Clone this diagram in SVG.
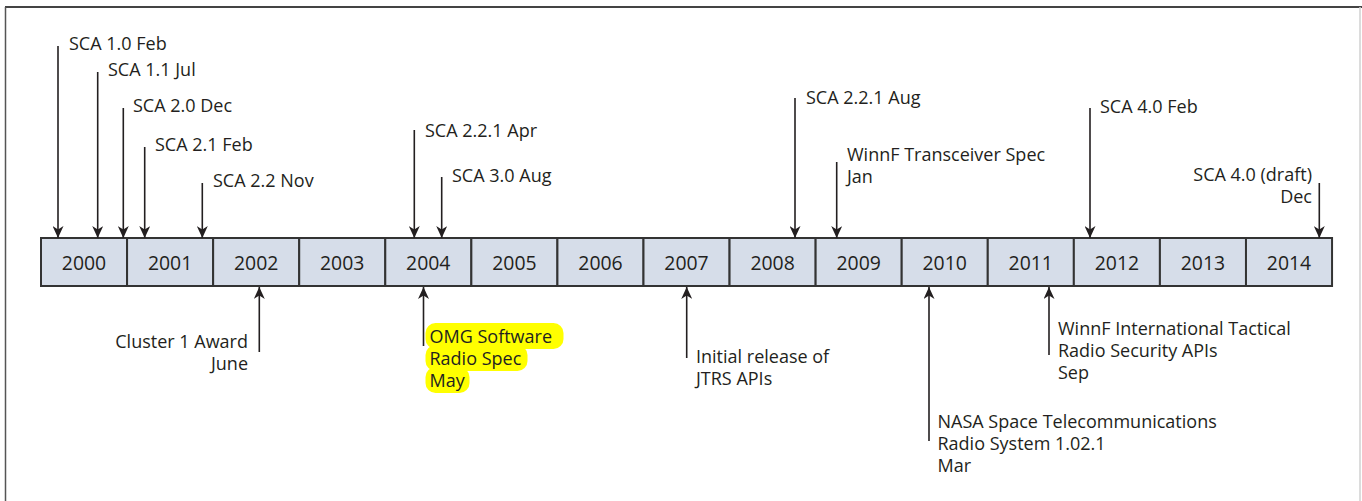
<svg xmlns="http://www.w3.org/2000/svg" width="1362" height="501" viewBox="0 0 1362 501">
<defs>
<marker id="ah" viewBox="0 0 12 11" refX="12" refY="5.5" markerWidth="13" markerHeight="11" markerUnits="userSpaceOnUse" orient="auto">
<path d="M0,0 L12,5.5 L0,11 L3.5,5.5 z" fill="#231f20"/>
</marker>
<style>
.t{font-family:"Open Sans","Noto Sans","Liberation Sans",sans-serif;font-size:18px;fill:#231f20}
.y{font-family:"Open Sans","Noto Sans","Liberation Sans",sans-serif;font-size:19.4px;fill:#231f20;text-anchor:middle}
.e{text-anchor:end}
.cell{fill:#d6dde9;stroke:#333;stroke-width:2}
.a{stroke:#231f20;stroke-width:1.6;fill:none;marker-end:url(#ah)}
.hl{fill:#ffff00}
</style>
</defs>
<rect width="1362" height="501" fill="#fff"/>
<g id="frame">
<line x1="5" y1="7" x2="1362" y2="7" stroke="#444" stroke-width="2"/>
<line x1="5.5" y1="7" x2="5.5" y2="501" stroke="#555" stroke-width="1.5"/>
<line x1="1360" y1="7" x2="1360" y2="501" stroke="#d0d0d0" stroke-width="1.5"/>
</g>
<g id="timeline">
<g id="y2000"><rect class="cell" x="41" y="238" width="86.07" height="48"/><text class="y" x="84" y="270">2000</text></g>
<g id="y2001"><rect class="cell" x="127.07" y="238" width="86.07" height="48"/><text class="y" x="170.1" y="270">2001</text></g>
<g id="y2002"><rect class="cell" x="213.14" y="238" width="86.07" height="48"/><text class="y" x="256.2" y="270">2002</text></g>
<g id="y2003"><rect class="cell" x="299.21" y="238" width="86.07" height="48"/><text class="y" x="342.2" y="270">2003</text></g>
<g id="y2004"><rect class="cell" x="385.28" y="238" width="86.07" height="48"/><text class="y" x="428.3" y="270">2004</text></g>
<g id="y2005"><rect class="cell" x="471.35" y="238" width="86.07" height="48"/><text class="y" x="514.4" y="270">2005</text></g>
<g id="y2006"><rect class="cell" x="557.42" y="238" width="86.07" height="48"/><text class="y" x="600.5" y="270">2006</text></g>
<g id="y2007"><rect class="cell" x="643.49" y="238" width="86.07" height="48"/><text class="y" x="686.5" y="270">2007</text></g>
<g id="y2008"><rect class="cell" x="729.56" y="238" width="86.07" height="48"/><text class="y" x="772.6" y="270">2008</text></g>
<g id="y2009"><rect class="cell" x="815.63" y="238" width="86.07" height="48"/><text class="y" x="858.7" y="270">2009</text></g>
<g id="y2010"><rect class="cell" x="901.7" y="238" width="86.07" height="48"/><text class="y" x="944.7" y="270">2010</text></g>
<g id="y2011"><rect class="cell" x="987.77" y="238" width="86.07" height="48"/><text class="y" x="1030.8" y="270">2011</text></g>
<g id="y2012"><rect class="cell" x="1073.84" y="238" width="86.07" height="48"/><text class="y" x="1116.9" y="270">2012</text></g>
<g id="y2013"><rect class="cell" x="1159.91" y="238" width="86.07" height="48"/><text class="y" x="1202.9" y="270">2013</text></g>
<g id="y2014"><rect class="cell" x="1245.98" y="238" width="86.07" height="48"/><text class="y" x="1289" y="270">2014</text></g>
</g>
<g id="connectors">
<line class="a" x1="58" y1="46" x2="58" y2="238"/>
<line class="a" x1="97.7" y1="72" x2="97.7" y2="238"/>
<line class="a" x1="123.3" y1="108" x2="123.3" y2="238"/>
<line class="a" x1="144.7" y1="147" x2="144.7" y2="238"/>
<line class="a" x1="202.3" y1="183" x2="202.3" y2="238"/>
<line class="a" x1="414.3" y1="130" x2="414.3" y2="238"/>
<line class="a" x1="441.7" y1="177" x2="441.7" y2="238"/>
<line class="a" x1="795" y1="98" x2="795" y2="238"/>
<line class="a" x1="836.7" y1="162" x2="836.7" y2="238"/>
<line class="a" x1="1090" y1="108" x2="1090" y2="238"/>
<line class="a" x1="1319.3" y1="183" x2="1319.3" y2="238"/>
<line class="a" x1="259.3" y1="352" x2="259.3" y2="287"/>
<line class="a" x1="423.5" y1="346" x2="423.5" y2="287"/>
<line class="a" x1="686.7" y1="358" x2="686.7" y2="287"/>
<line class="a" x1="929" y1="441" x2="929" y2="287"/>
<line class="a" x1="1049" y1="355" x2="1049" y2="287"/>
</g>
<g id="sca10"><text class="t" x="69" y="50">SCA 1.0 Feb</text></g>
<g id="sca11"><text class="t" x="108" y="76">SCA 1.1 Jul</text></g>
<g id="sca20"><text class="t" x="133" y="112">SCA 2.0 Dec</text></g>
<g id="sca21"><text class="t" x="155" y="151">SCA 2.1 Feb</text></g>
<g id="sca22"><text class="t" x="213" y="187">SCA 2.2 Nov</text></g>
<g id="sca221apr"><text class="t" x="425" y="137">SCA 2.2.1 Apr</text></g>
<g id="sca30"><text class="t" x="452" y="182">SCA 3.0 Aug</text></g>
<g id="sca221aug"><text class="t" x="806" y="104">SCA 2.2.1 Aug</text></g>
<g id="winnf-trx"><text class="t" x="847" y="161">WinnF Transceiver Spec</text><text class="t" x="847" y="183">Jan</text></g>
<g id="sca40"><text class="t" x="1100" y="113">SCA 4.0 Feb</text></g>
<g id="sca40draft"><text class="t e" x="1312" y="181">SCA 4.0 (draft)</text><text class="t e" x="1312" y="203">Dec</text></g>
<g id="cluster1"><text class="t e" x="248" y="348">Cluster 1 Award</text><text class="t e" x="248" y="370">June</text></g>
<g id="omg">
<rect class="hl" x="425.5" y="323" width="138" height="26" rx="10"/>
<rect class="hl" x="425.5" y="345" width="102" height="26" rx="10"/>
<rect class="hl" x="425.5" y="367" width="44" height="26" rx="10"/>
<text class="t" x="429.5" y="343">OMG Software</text><text class="t" x="429.5" y="365">Radio Spec</text><text class="t" x="429.5" y="387">May</text>
</g>
<g id="jtrs"><text class="t" x="696" y="363">Initial release of</text><text class="t" x="696" y="385">JTRS APIs</text></g>
<g id="nasa"><text class="t" x="937.5" y="428">NASA Space Telecommunications</text><text class="t" x="937.5" y="450">Radio System 1.02.1</text><text class="t" x="937.5" y="472">Mar</text></g>
<g id="winnf-intl"><text class="t" x="1058" y="335">WinnF International Tactical</text><text class="t" x="1058" y="357">Radio Security APIs</text><text class="t" x="1058" y="379">Sep</text></g>
</svg>
